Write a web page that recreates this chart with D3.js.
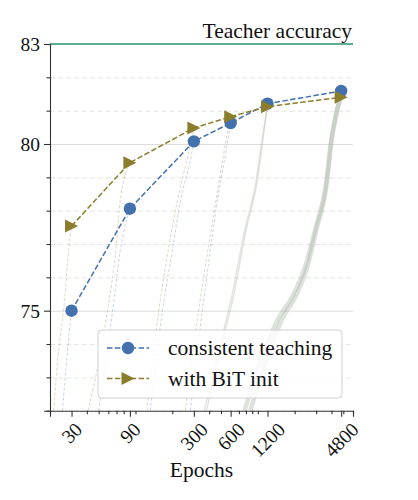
<!DOCTYPE html>
<meta charset="utf-8">
<title>Consistent teaching vs epochs</title>
<style>
  body { margin: 0; background: #fff; }
  text { font-family: "Liberation Serif", "DejaVu Serif", serif; fill: #111; }
  .axis path, .axis line { stroke: #333; stroke-width: 1.1; }
  .grid path { stroke: none; }
  .grid.major line { stroke: #dcdcdc; stroke-width: 1; }
  .grid.minor line { stroke: #e4e4e4; stroke-width: 1; stroke-dasharray: 5,3; }
</style>
<body>
<script src="https://d3js.org/d3.v7.min.js"></script>
<script>
  // final accuracies per training length
  var epochs = [30, 90, 300, 600, 1200, 4800];
  var consistentAcc = [75.0, 78.06, 80.08, 80.63, 81.21, 81.59];
  var bitAcc = [77.54, 79.44, 80.48, 80.82, 81.12, 81.40];
  var teacherAcc = 83;

  var xTicks = [30, 90, 300, 600, 1200, 4800];
  var xMinorTicks = [20, 40, 50, 60, 70, 80, 100, 200, 400, 500, 700, 800, 900, 1000, 2000, 3000, 4000, 5000, 6000];
  var yTicks = [75, 80, 83];
  var yMinorTicks = [72, 73, 74, 76, 77, 78, 79, 81, 82];

  // faint training curves (epoch, accuracy), one per run
  var curvesConsistent = [
    [[25.3, 72], [27.8, 73.8], [30, 75.0]],
    [[50, 72], [65, 75.0], [75, 76.8], [90, 78.06]],
    [[132, 72], [166, 75.0], [200, 76.8], [233, 78.3], [280, 79.5], [300, 80.08]],
    [[281, 72], [352, 75.0], [409, 76.8], [467, 78.3], [550, 79.8], [600, 80.63]],
    [[380, 72], [540, 74.4], [630, 75.4], [800, 77.4], [990, 78.9], [1090, 80], [1200, 81.21]],
    [[870, 72], [1090, 73.2], [1440, 74.4], [1610, 74.8], [2020, 75.4], [2580, 76.4], [3000, 77.4], [3690, 78.9], [3980, 80], [4450, 81], [4800, 81.59]]
  ];
  var curvesBit = [
    [[21.4, 72], [23.5, 73.8], [25.8, 75.0], [28.4, 76.8], [30, 77.54]],
    [[41, 72], [52, 73.8], [59, 75.0], [69, 76.8], [75, 78.3], [90, 79.44]],
    [[124, 72], [155, 75.0], [185, 76.8], [220, 78.3], [270, 79.7], [300, 80.48]],
    [[255, 72], [328, 75.0], [390, 76.8], [455, 78.3], [530, 79.8], [600, 80.82]],
    [[365, 72], [525, 74.4], [610, 75.4], [780, 77.4], [970, 78.9], [1070, 80], [1200, 81.12]],
    [[780, 72], [980, 73.2], [1320, 74.4], [1490, 74.8], [1900, 75.4], [2480, 76.4], [2920, 77.4], [3640, 78.9], [3940, 80], [4420, 81], [4800, 81.40]]
  ];

  var legendLabels = ["consistent teaching", "with BiT init"];

  var blue = "#4271ae", olive = "#8b7d2b", teal = "#5aae93";

  var W = 418, H = 500;
  var plotLeft = 50, plotRight = 353, plotTop = 44, plotBottom = 410.7;

  var x = d3.scaleLog().domain([20, 6000]).range([plotLeft, plotRight]);
  var y = d3.scaleLinear().domain([72, 83]).range([plotBottom, plotTop]);

  var svg = d3.select("body").append("svg")
      .attr("width", W)
      .attr("height", H);

  svg.append("defs").append("clipPath").attr("id", "plot")
    .append("rect").attr("x", plotLeft).attr("y", plotTop)
      .attr("width", plotRight - plotLeft).attr("height", plotBottom - plotTop);

  // grid
  svg.append("g")
      .attr("class", "grid minor")
      .attr("transform", "translate(" + plotLeft + ",0)")
      .call(d3.axisLeft(y).tickValues(yMinorTicks).tickSize(-(plotRight - plotLeft)).tickFormat(""));
  svg.append("g")
      .attr("class", "grid major")
      .attr("transform", "translate(" + plotLeft + ",0)")
      .call(d3.axisLeft(y).tickValues([75, 80]).tickSize(-(plotRight - plotLeft)).tickFormat(""));

  // background training curves
  var line = d3.line()
      .x(function(d) { return x(d[0]); })
      .y(function(d) { return y(d[1]); })
      .curve(d3.curveMonotoneX);

  var runs = svg.append("g").attr("clip-path", "url(#plot)");
  function drawRuns(curves, color) {
    runs.selectAll(null)
        .data(curves)
      .enter().append("path")
        .attr("d", line)
        .attr("fill", "none")
        .attr("stroke", function(d, i) { return i >= 4 ? "#aab6a7" : color; })
        .attr("stroke-opacity", function(d, i) { return i == 5 ? 0.4 : (i == 4 ? 0.35 : 0.3); })
        .attr("stroke-width", function(d, i) { return i == 5 ? 4.5 : (i == 4 ? 1.5 : 1); })
        .attr("stroke-dasharray", function(d, i) { return i >= 4 ? null : "3,2"; });
  }
  drawRuns(curvesConsistent, blue);
  drawRuns(curvesBit, olive);

  // teacher line
  svg.append("line")
      .attr("x1", plotLeft).attr("x2", plotRight)
      .attr("y1", y(teacherAcc)).attr("y2", y(teacherAcc))
      .attr("stroke", teal)
      .attr("stroke-width", 2);

  svg.append("text")
      .attr("x", plotRight - 1)
      .attr("y", y(teacherAcc) - 6)
      .attr("text-anchor", "end")
      .style("font-size", "21.5px")
      .text("Teacher accuracy");

  // axes
  var yAxis = svg.append("g")
      .attr("class", "axis")
      .attr("transform", "translate(" + plotLeft + ",0)")
      .call(d3.axisLeft(y).tickValues(yTicks).tickSize(6).tickPadding(4));
  yAxis.selectAll("text").style("font-size", "19.5px").attr("dy", "0.33em");
  svg.append("g")
      .attr("class", "axis")
      .attr("transform", "translate(" + plotLeft + ",0)")
      .call(d3.axisLeft(y).tickValues(yMinorTicks).tickSize(3.5).tickFormat(""))
      .select(".domain").remove();

  var xAxis = svg.append("g")
      .attr("class", "axis")
      .attr("transform", "translate(0," + plotBottom + ")")
      .call(d3.axisBottom(x).tickValues(xTicks).tickSize(6).tickFormat(function(d) { return d; }));
  svg.append("g")
      .attr("class", "axis")
      .attr("transform", "translate(0," + plotBottom + ")")
      .call(d3.axisBottom(x).tickValues(xMinorTicks).tickSize(3.5).tickFormat(""))
      .select(".domain").remove();

  xAxis.selectAll("text")
      .style("font-size", "19.5px")
      .attr("text-anchor", "middle")
      .attr("y", 0)
      .attr("dy", "0.33em")
      .attr("transform", function() {
        var w = this.getComputedTextLength();
        var h = (w + 0.8 * 19.5) * 0.7071;
        return "translate(0," + (10 + h / 2) + ") rotate(-45)";
      });

  svg.append("text")
      .attr("x", (plotLeft + plotRight) / 2)
      .attr("y", 477)
      .attr("text-anchor", "middle")
      .style("font-size", "21.5px")
      .text("Epochs");

  // main series
  var series = [
    {acc: consistentAcc, color: blue, marker: "circle"},
    {acc: bitAcc, color: olive, marker: "triangle"}
  ];
  var seriesLine = d3.line()
      .x(function(d) { return x(d[0]); })
      .y(function(d) { return y(d[1]); });

  function drawMarker(g, type, color) {
    if (type == "circle") {
      g.append("circle").attr("r", 6.2).attr("fill", color);
    } else {
      g.append("path").attr("d", "M-6.5,-6.5L6.5,0L-6.5,6.5Z").attr("fill", color);
    }
  }

  series.forEach(function(s) {
    var pts = epochs.map(function(e, i) { return [e, s.acc[i]]; });
    svg.append("path")
        .datum(pts)
        .attr("d", seriesLine)
        .attr("fill", "none")
        .attr("stroke", s.color)
        .attr("stroke-width", 1.5)
        .attr("stroke-dasharray", "5.5,2.4");
    pts.forEach(function(p) {
      var g = svg.append("g").attr("transform", "translate(" + x(p[0]) + "," + y(p[1]) + ")");
      drawMarker(g, s.marker, s.color);
    });
  });

  // legend
  var legend = svg.append("g").attr("transform", "translate(98,330)");
  legend.append("rect")
      .attr("width", 244).attr("height", 68)
      .attr("rx", 4)
      .attr("fill", "#fff").attr("fill-opacity", 0.8)
      .attr("stroke", "#d0d0d0");
  series.forEach(function(s, i) {
    var row = legend.append("g").attr("transform", "translate(0," + (18 + i * 30.5) + ")");
    row.append("line")
        .attr("x1", 9).attr("x2", 51)
        .attr("stroke", s.color).attr("stroke-width", 1.5)
        .attr("stroke-dasharray", "5.5,2.4");
    var m = row.append("g").attr("transform", "translate(30,0)");
    drawMarker(m, s.marker, s.color);
    row.append("text")
        .attr("x", 70)
        .attr("dy", "0.33em")
        .style("font-size", "21.5px")
        .text(legendLabels[i]);
  });
</script>
</body>
